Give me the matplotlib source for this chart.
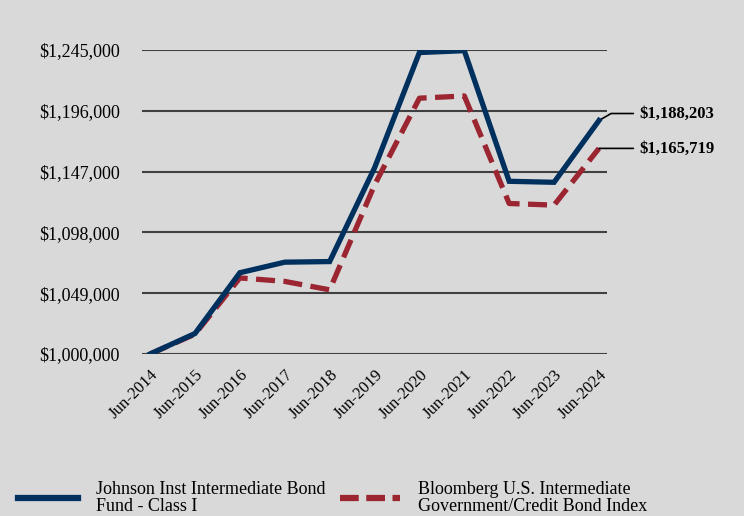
import matplotlib.pyplot as plt
from matplotlib.lines import Line2D

years = ['Jun-2014', 'Jun-2015', 'Jun-2016', 'Jun-2017', 'Jun-2018', 'Jun-2019',
         'Jun-2020', 'Jun-2021', 'Jun-2022', 'Jun-2023', 'Jun-2024']
fund = [1000000, 1016500, 1065500, 1074000, 1074500, 1150000,
        1243000, 1244500, 1139200, 1138400, 1188203]
index = [1000000, 1016000, 1061300, 1058500, 1051700, 1136200,
         1206200, 1208000, 1121300, 1120000, 1165719]
yticks = [1000000, 1049000, 1098000, 1147000, 1196000, 1245000]
fund_name = 'Johnson Inst Intermediate Bond\nFund - Class I'
index_name = 'Bloomberg U.S. Intermediate\nGovernment/Credit Bond Index'

navy = '#00305e'
red = '#9b2530'
bg = '#d9d9d9'

plt.rcParams['font.family'] = ['Liberation Serif', 'DejaVu Serif']

fig = plt.figure(figsize=(7.44, 5.16), dpi=100, facecolor=bg)
ax = fig.add_axes([0.1909, 0.314, 0.625, 0.589], facecolor=bg)

x = list(range(len(years)))
ax.plot(x, index, color=red, lw=3.8, dashes=(3.6, 1.6), zorder=3,
        solid_joinstyle='miter')
ax.plot(x, fund, color=navy, lw=3.8, zorder=4, solid_joinstyle='miter')

ax.set_xlim(-0.18, 10.18)
ax.set_ylim(1000000, 1245000)
ax.set_yticks(yticks)
ax.set_yticklabels(['${:,}'.format(v) for v in yticks], fontsize=13)
ax.set_xticks(x)
ax.set_xticklabels(years, rotation=45, ha='right', rotation_mode='anchor', fontsize=12)
ax.tick_params(axis='both', length=0, colors='black')
ax.tick_params(axis='y', pad=16)
ax.tick_params(axis='x', pad=9)
ax.grid(axis='y', color='#404040', lw=1.5)
ax.set_axisbelow(True)
for s in ax.spines.values():
    s.set_visible(False)

# end labels with leader lines
ax.annotate('${:,}'.format(fund[-1]), xy=(10, fund[-1]), xytext=(40, 7),
            textcoords='offset pixels', fontsize=12, fontweight='bold',
            va='center', ha='left', annotation_clip=False,
            arrowprops=dict(arrowstyle='-', color='black', lw=1.2,
                            connectionstyle='angle,angleA=0,angleB=30,rad=0',
                            shrinkA=2, shrinkB=0))
ax.annotate('${:,}'.format(index[-1]), xy=(10, index[-1]), xytext=(40, 0),
            textcoords='offset pixels', fontsize=12, fontweight='bold',
            va='center', ha='left', annotation_clip=False,
            arrowprops=dict(arrowstyle='-', color='black', lw=1.2,
                            shrinkA=2, shrinkB=0))

handles = [Line2D([], [], color=navy, lw=4.5),
           Line2D([], [], color=red, lw=4.5, dashes=(3.0, 1.2))]
leg = fig.legend(handles, [fund_name, index_name], loc='upper left',
                 bbox_to_anchor=(0.003, 0.1), ncol=2, frameon=False, fontsize=13,
                 handlelength=3.3, handletextpad=1.0, columnspacing=0.8,
                 labelspacing=0.2)
for t in leg.get_texts():
    t.set_linespacing(1.05)

fig.savefig('out.png', dpi=100, facecolor=bg)
